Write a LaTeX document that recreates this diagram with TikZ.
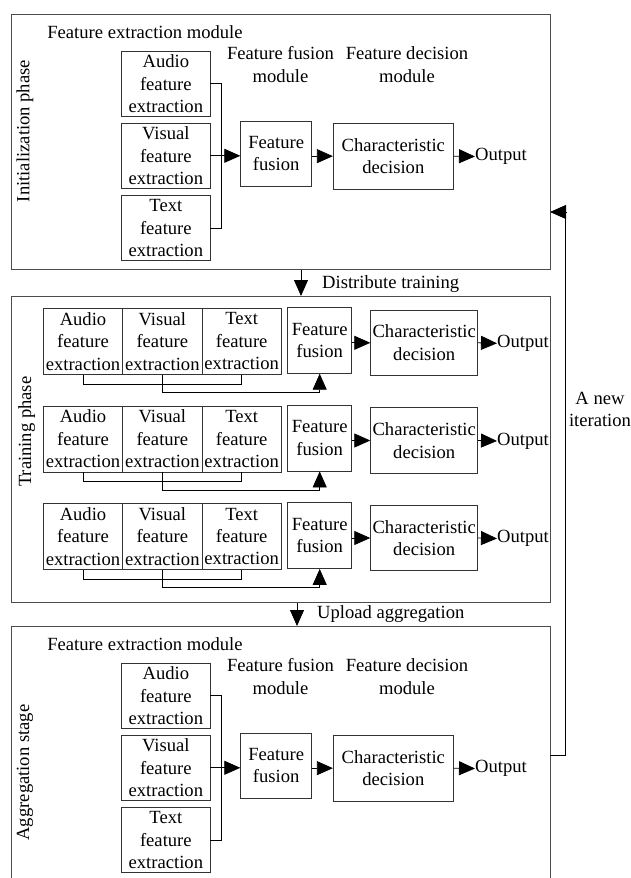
\documentclass[tikz,border=0pt]{standalone}
\usepackage{fontspec}
\setmainfont{Liberation Serif}
\usetikzlibrary{arrows.meta}
\begin{document}
\begin{tikzpicture}[x=1pt,y=-1pt,
  every node/.style={font=\fontsize{18.6}{22.4}\selectfont, inner sep=0pt, align=center},
  panel/.style={draw=black!70, line width=1pt, anchor=north west, minimum width=539pt},
  box/.style={draw=black!80, line width=0.8pt},
  conn/.style={line width=0.8pt},
  arr/.style={line width=0.8pt, -{Triangle[length=16pt,width=14pt]}}]
\useasboundingbox (0,0) rectangle (630,878);
\clip (0,0) rectangle (630,878);

% panels
\node[panel, minimum height=255pt] (P1) at (11,14) {};
\node[panel, minimum height=306pt] (P2) at (11,296) {};
\node[panel, minimum height=255pt] (P3) at (11,626) {};

\node[rotate=90] (L1) at (25,131) {Initialization phase};
\node[rotate=90] (L2) at (26.7,431.7) {Training phase};
\node[rotate=90] (L3) at (25,772.5) {Aggregation stage};

% initialization and aggregation panels
\foreach \p/\dy in {i/0, a/612} {
  \node (\p ml) at (145,{32+\dy}) {Feature extraction module};
  \node (\p fl) at (280.5,{64.5+\dy}) {Feature fusion\\module};
  \node (\p dl) at (407,{64.5+\dy}) {Feature decision\\module};
  \node[box, minimum width=88.3pt, minimum height=65.7pt] (\p aud) at (165.85,{83.85+\dy}) {Audio\\feature\\extraction};
  \node[box, minimum width=88.3pt, minimum height=65pt] (\p vis) at (165.85,{155.8+\dy}) {Visual\\feature\\extraction};
  \node[box, minimum width=88.3pt, minimum height=65pt] (\p txt) at (165.85,{228.2+\dy}) {Text\\feature\\extraction};
  \node[box, minimum width=71pt, minimum height=65pt] (\p fus) at (276.2,{153.5+\dy}) {Feature\\fusion};
  \node[box, minimum width=120pt, minimum height=65.7pt] (\p dec) at (393.3,{156.15+\dy}) {Characteristic\\decision};
  \node[anchor=west] (\p out) at (475,{156.5+\dy}) {Output};
  \coordinate (\p br) at (221.7,{\dy});
  \draw[conn] (\p aud.east) -| (\p br |- \p txt.east) -- (\p txt.east);
  \draw[arr] (\p vis.east) -- (\p vis.east -| \p fus.west);
  \draw[arr] (\p fus.east |- \p dec.west) -- (\p dec.west);
  \draw[arr] (\p dec.east) -- (\p out.west);
}

% training rows
\foreach \r/\y in {1/341.3, 2/439, 3/536.5} {
  \node[box, minimum width=79.4pt, minimum height=66pt] (t\r aud) at (83,\y) {Audio\\feature\\extraction};
  \node[box, minimum width=79.3pt, minimum height=66pt] (t\r vis) at (162.35,\y) {Visual\\feature\\extraction};
  \node[box, minimum width=79.3pt, minimum height=66pt] (t\r txt) at (241.65,\y) {Text\\feature\\extraction};
  \node[box, minimum width=64pt, minimum height=66pt] (t\r fus) at (319.7,{\y-1}) {Feature\\fusion};
  \node[box, minimum width=107pt, minimum height=65.7pt] (t\r dec) at (424.2,{\y+1.5}) {Characteristic\\decision};
  \node[anchor=west] (t\r out) at (497,{\y+2}) {Output};
  \coordinate (t\r b1) at (0,{\y+42.7});
  \coordinate (t\r b2) at (0,{\y+51});
  \draw[conn] (t\r aud.south) -- (t\r aud.south |- t\r b1) -- (t\r txt.south |- t\r b1) -- (t\r txt.south);
  \draw[arr] (t\r vis.south) -- (t\r vis.south |- t\r b2) -- (t\r fus.south |- t\r b2) -- (t\r fus.south);
  \draw[arr] (t\r fus.east |- t\r dec.west) -- (t\r dec.west);
  \draw[arr] (t\r dec.east) -- (t\r out.west);
}

% phase transitions
\coordinate (dx) at (301,0);
\coordinate (ux) at (297,0);
\draw[arr] (P1.south -| dx) -- (P2.north -| dx);
\node[anchor=west] (dt) at (322,284) {Distribute training};
\draw[arr] (P2.south -| ux) -- (P3.north -| ux);
\node[anchor=west] (ua) at (317,614) {Upload aggregation};

% feedback loop
\coordinate (fx) at (565.7,0);
\coordinate (fbA) at (550,755);
\coordinate (fbB) at (550,212);
\draw[arr] (fbA) -- (fbA -| fx) -- (fbB -| fx) -- (fbB);
\node (it) at (600,409.5) {A new\\iteration};
\end{tikzpicture}
\end{document}
